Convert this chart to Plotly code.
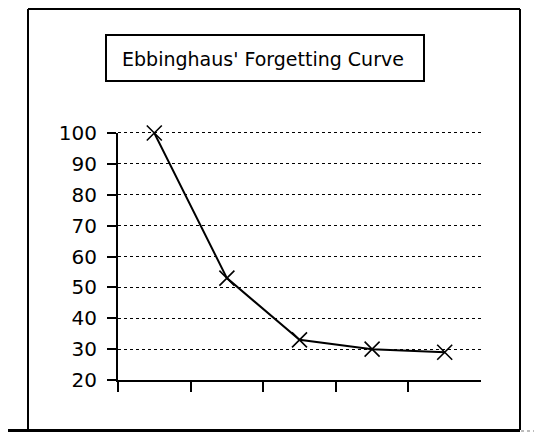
import plotly.graph_objects as go

# Data
x_pos = [1, 2, 3, 4, 5]
retention = [100, 53, 33, 30, 29]
y_ticks = [20, 30, 40, 50, 60, 70, 80, 90, 100]
title_text = "Ebbinghaus' Forgetting Curve"

# page has an 8px body margin, so work in page pixels and shift
OFF = 8
W, H = 542 - OFF, 434 - OFF
L, R, T, B = 118 - OFF, 481 - OFF, 133 - OFF, 380 - OFF


def px(xp):
    return (xp - OFF - L) / (R - L)


def py(yp):
    return (B - (yp - OFF)) / (B - T)


fig = go.Figure()
fig.add_trace(go.Scatter(
    x=x_pos, y=retention, mode="lines+markers",
    line=dict(color="black", width=2),
    marker=dict(symbol="x-thin-open", size=15, color="black",
                line=dict(color="black", width=1.6)),
    cliponaxis=False, showlegend=False, hoverinfo="skip",
))

shapes = [
    # top gridline (at range edge), nudged half a pixel for crispness
    dict(type="line", xref="paper", yref="paper", x0=0, x1=1, y0=py(132.5), y1=py(132.5),
         line=dict(color="black", width=1, dash="dot"), layer="below"),
    # outer frame
    dict(type="line", xref="paper", yref="paper", x0=px(28), x1=px(520), y0=py(9), y1=py(9),
         line=dict(color="black", width=2)),
    dict(type="line", xref="paper", yref="paper", x0=px(28), x1=px(28), y0=py(9), y1=py(430),
         line=dict(color="black", width=2)),
    dict(type="line", xref="paper", yref="paper", x0=px(520), x1=px(520), y0=py(9), y1=py(430),
         line=dict(color="black", width=2)),
    dict(type="line", xref="paper", yref="paper", x0=px(0), x1=px(520), y0=py(430.5), y1=py(430.5),
         line=dict(color="black", width=3)),
    dict(type="line", xref="paper", yref="paper", x0=px(521), x1=px(542), y0=py(431), y1=py(431),
         line=dict(color="#bbbbbb", width=2, dash="dot")),
    # title box
    dict(type="rect", xref="paper", yref="paper", x0=px(106), x1=px(424), y0=py(35), y1=py(81),
         line=dict(color="black", width=2), fillcolor="white"),
]

fig.update_layout(
    width=W, height=H,
    margin=dict(l=L, r=W - R, t=T, b=H - B, pad=0),
    paper_bgcolor="white", plot_bgcolor="white",
    font=dict(family="DejaVu Sans", color="black"),
    shapes=shapes,
    annotations=[dict(text=title_text, xref="paper", yref="paper", x=px(263), y=py(59),
                      xanchor="center", yanchor="middle", showarrow=False,
                      font=dict(size=19, family="DejaVu Sans", color="black"))],
    xaxis=dict(range=[0.5, 5.5], showgrid=False, zeroline=False, showline=True,
               linecolor="black", linewidth=2, tickmode="array",
               tickvals=[0.5, 1.5, 2.5, 3.5, 4.5], ticks="outside", ticklen=10,
               tickwidth=2, tickcolor="black", showticklabels=False, fixedrange=True),
    yaxis=dict(range=[20, 100], tickmode="array", tickvals=y_ticks,
               ticktext=[str(v) for v in y_ticks], showgrid=True, gridcolor="black",
               griddash="dot", gridwidth=1, zeroline=False, showline=True,
               linecolor="black", linewidth=2, ticks="outside", ticklen=9, tickwidth=2,
               tickcolor="black", ticklabelstandoff=6,
               tickfont=dict(size=20, family="DejaVu Sans", color="black"), fixedrange=True),
)

fig.write_html("out.html")
